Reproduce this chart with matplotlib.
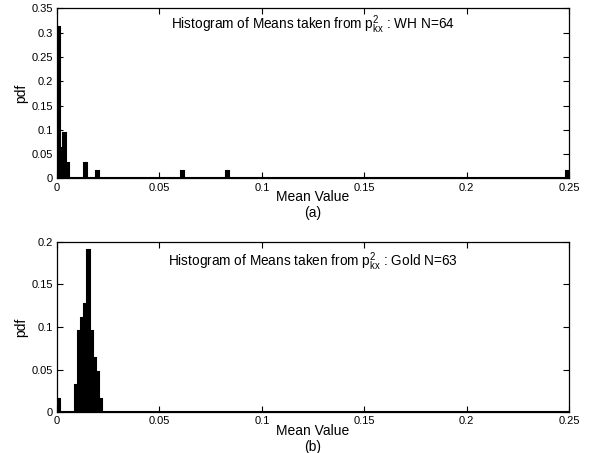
import numpy as np
import matplotlib
matplotlib.use("Agg")
import matplotlib.pyplot as plt

plt.rcParams['font.family'] = ['Liberation Sans', 'DejaVu Sans']
plt.rcParams['mathtext.fontset'] = 'custom'
plt.rcParams['mathtext.rm'] = 'Liberation Sans'
plt.rcParams['mathtext.it'] = 'Liberation Sans:italic'

# histogram grid: 170 equal bins on [0, 0.25]
n_bins = 170
x_max = 0.25

# (a) WH, N=64 : non-empty bins and their counts
wh_N = 64
wh_bins = [0, 1, 2, 3, 9, 13, 41, 56, 169]
wh_counts = [20, 4, 6, 2, 2, 1, 1, 1, 1]

# (b) Gold, N=63
gold_N = 63
gold_bins = [0, 6, 7, 8, 9, 10, 11, 12, 13, 14]
gold_counts = [1, 2, 6, 7, 8, 12, 6, 4, 3, 1]

wh_ticks_y = [0, 0.05, 0.1, 0.15, 0.2, 0.25, 0.3, 0.35]
gold_ticks_y = [0, 0.05, 0.1, 0.15, 0.2]
x_ticks = [0, 0.05, 0.1, 0.15, 0.2, 0.25]


def pdf_from_counts(bins, counts, N):
    h = np.zeros(n_bins)
    h[bins] = np.array(counts) / N
    return h


def draw_hist(ax, heights, ylim, yticks, title, tag, title_y):
    edges = np.linspace(0, x_max, n_bins + 1)
    w = edges[1] - edges[0]
    ax.bar(edges[:-1], heights, width=w, align='edge', color='k',
           edgecolor='k', linewidth=1.5)
    ax.set_xlim(0, x_max)
    ax.set_ylim(*ylim)
    ax.set_xticks(x_ticks)
    ax.set_xticklabels(['0', '0.05', '0.1', '0.15', '0.2', '0.25'])
    ax.set_yticks(yticks)
    ax.set_yticklabels(['0' if v == 0 else ('%g' % v) for v in yticks])
    ax.tick_params(direction='in', top=True, right=True, length=4,
                   width=0.8, labelsize=8, pad=3)
    for s in ax.spines.values():
        s.set_linewidth(0.9)
    ax.set_ylabel('pdf', fontsize=10)
    ax.yaxis.set_label_coords(-0.056, 0.5)
    ax.text(0.5, title_y, title, transform=ax.transAxes, ha='center',
            va='center', fontsize=9.8)
    ax.annotate('Mean Value', xy=(0.5, 0), xycoords='axes fraction',
                xytext=(0, -13.5), textcoords='offset points',
                ha='center', va='center', fontsize=10)
    ax.annotate(tag, xy=(0.5, 0), xycoords='axes fraction',
                xytext=(0, -25), textcoords='offset points',
                ha='center', va='center', fontsize=10)


fig = plt.figure(figsize=(5.89, 4.53), dpi=100)
ax1 = fig.add_axes([0.0968, 0.6060, 0.8693, 0.3753])
ax2 = fig.add_axes([0.0968, 0.0905, 0.8693, 0.3753])

draw_hist(ax1, pdf_from_counts(wh_bins, wh_counts, wh_N), (0, 0.35),
          wh_ticks_y,
          r'Histogram of Means taken from $\mathregular{p^2_{kx}}$ : WH N=64',
          '(a)', 0.905)
draw_hist(ax2, pdf_from_counts(gold_bins, gold_counts, gold_N), (0, 0.2),
          gold_ticks_y,
          r'Histogram of Means taken from $\mathregular{p^2_{kx}}$ : Gold N=63',
          '(b)', 0.882)

fig.savefig('out.png', dpi=100)
